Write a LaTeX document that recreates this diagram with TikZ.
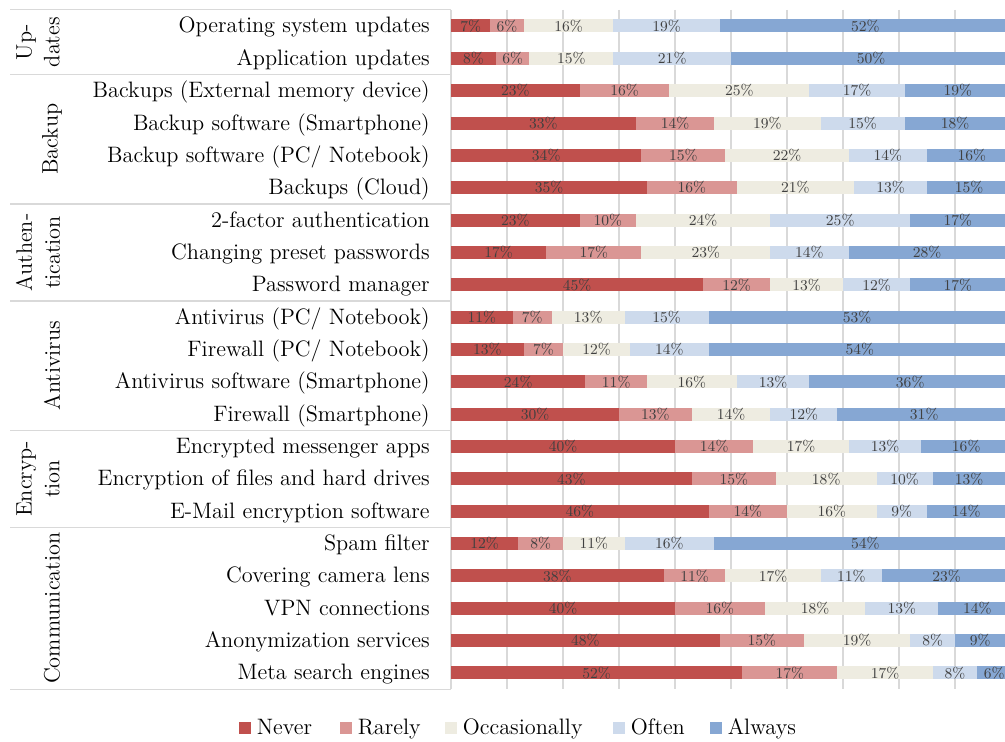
\documentclass[tikz,border=0pt]{standalone}
\usepackage{tikz}

\definecolor{never}{RGB}{192,80,77}
\definecolor{rarely}{RGB}{218,150,148}
\definecolor{occasionally}{RGB}{238,236,225}
\definecolor{often}{RGB}{205,218,236}
\definecolor{always}{RGB}{134,167,211}
\definecolor{pcttext}{RGB}{64,64,64}
\definecolor{gridgray}{RGB}{217,217,217}

\newcommand{\labelfont}{\fontsize{12.7}{15.9}\selectfont}

\tikzset{
  rowlabel/.style={anchor=base east, inner sep=0pt, font=\labelfont},
  grouplabel/.style={rotate=90, align=center, inner sep=0pt, font=\labelfont},
  pct/.style={inner sep=0pt, text=pcttext, font=\fontsize{8.6}{9}\selectfont},
  gridline/.style={draw=gridgray, line width=0.7pt},
  keybox/.style={minimum size=0.24cm, inner sep=0pt},
  keytext/.style={anchor=base west, inner sep=0pt, font=\labelfont},
}

\begin{document}
\begin{tikzpicture}[x=0.02cm, y=-0.02cm, declare function={px(\p)=451+5.6*\p;}]
  \useasboundingbox (0,0) rectangle (1005,742);

  % --- grid and axis ---
  \foreach \k in {1,...,9}
    \draw[gridline] ({451+56*\k},10) -- ({451+56*\k},689);
  \draw[gridline] (451,10) -- (451,689);
  \foreach \ys in {9.8,74.5,203.9,301,430.4,527.4,689.2}
    \draw[gridline] (10,\ys) -- (451,\ys);

  % --- group labels ---
  \foreach \txt/\ra/\rb/\xc [count=\g] in {{Up-\\dates}/1/2/38, Backup/3/6/52,
      {Authen-\\tication}/7/9/38, Antivirus/10/13/52,
      {Encryp-\\tion}/14/16/38, Communication/17/21/52}
    \node[grouplabel] (grp\g) at (\xc,{26+32.35*((\ra+\rb)/2-1)}) {\txt};

  % --- stacked bars: never / rarely / occasionally / often / always ---
  \foreach \lbl/\a/\b/\c/\d/\e [count=\i] in {
      {Operating system updates}/7/6/16/19/52,
      {Application updates}/8/6/15/21/50,
      {Backups (External memory device)}/23/16/25/17/19,
      {Backup software (Smartphone)}/33/14/19/15/18,
      {Backup software (PC/ Notebook)}/34/15/22/14/16,
      {Backups (Cloud)}/35/16/21/13/15,
      {2-factor authentication}/23/10/24/25/17,
      {Changing preset passwords}/17/17/23/14/28,
      {Password manager}/45/12/13/12/17,
      {Antivirus (PC/ Notebook)}/11/7/13/15/53,
      {Firewall (PC/ Notebook)}/13/7/12/14/54,
      {Antivirus software (Smartphone)}/24/11/16/13/36,
      {Firewall (Smartphone)}/30/13/14/12/31,
      {Encrypted messenger apps}/40/14/17/13/16,
      {Encryption of files and hard drives}/43/15/18/10/13,
      {E-Mail encryption software}/46/14/16/9/14,
      {Spam filter}/12/8/11/16/54,
      {Covering camera lens}/38/11/17/11/23,
      {VPN connections}/40/16/18/13/14,
      {Anonymization services\hspace{0.14cm}}/48/15/19/8/9,
      {Meta search engines}/52/17/17/8/6} {
    \pgfmathsetmacro{\y}{26+32.35*(\i-1)}
    \pgfmathsetmacro{\sa}{\a}
    \pgfmathsetmacro{\sb}{\a+\b}
    \pgfmathsetmacro{\sc}{\a+\b+\c}
    \pgfmathsetmacro{\sd}{\a+\b+\c+\d}
    \pgfmathsetmacro{\se}{\a+\b+\c+\d+\e}
    \node[rowlabel] (row\i) at (430,\y+7) {\lbl};
    \foreach \from/\to/\v/\col [count=\k] in {0/\sa/\a/never, \sa/\sb/\b/rarely,
        \sb/\sc/\c/occasionally, \sc/\sd/\d/often, \sd/\se/\e/always} {
      \fill[\col] ({px(\from)},\y-6.5) rectangle ({px(\to)},\y+6.5);
      \node[pct] (seg\i-\k) at ({px((\from+\to)/2)},\y) {\v\%};
    }
  }

  % --- legend ---
  \foreach \col/\name/\xk [count=\n] in {never/Never/245, rarely/Rarely/346,
      occasionally/Occasionally/451, often/Often/619, always/Always/716} {
    \node[keybox, fill=\col] (key\n) at (\xk,728.5) {};
    \node[keytext] (keytxt\n) at (\xk+11.5,735) {\name};
  }
\end{tikzpicture}
\end{document}
